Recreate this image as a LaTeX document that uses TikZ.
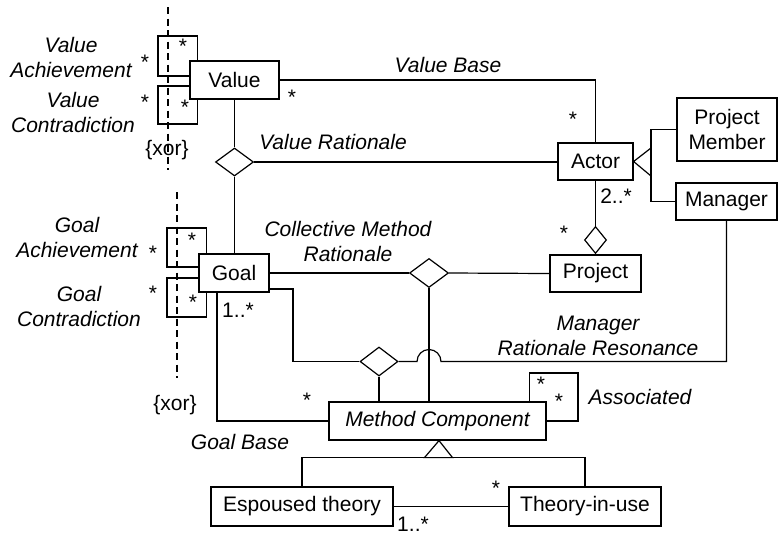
\documentclass[tikz,border=0pt]{standalone}
\usepackage{fontspec}
\setmainfont{Liberation Sans}
\usetikzlibrary{shapes.geometric,calc}
\begin{document}
\begin{tikzpicture}[x=1pt,y=-1pt,line width=1.2pt,
  every node/.style={font=\fontsize{21}{25}\selectfont},
  cls/.style={draw,rectangle,inner sep=0pt,align=center},
  dia/.style={draw,diamond,inner sep=0pt,fill=white},
  lbl/.style={align=center,inner sep=0pt,font=\fontsize{21}{25}\selectfont\itshape},
  mult/.style={inner sep=0pt},
  xorline/.style={dash pattern=on 7pt off 4.5pt}]
\useasboundingbox (0,0) rectangle (778,536);
% classes
\node[cls,minimum width=89,minimum height=38] (Value) at (234.5,80) {Value};
\node[cls,minimum width=75,minimum height=37] (Actor) at (595.5,161.5) {Actor};
\node[cls,minimum width=100,minimum height=63] (PM) at (727,129.5) {Project\\Member};
\node[cls,minimum width=101,minimum height=37] (Manager) at (726.5,201.5) {Manager};
\node[cls,minimum width=91,minimum height=37] (Project) at (595.5,273.5) {Project};
\node[cls,minimum width=70,minimum height=38] (Goal) at (234,273) {Goal};
\node[cls,minimum width=217,minimum height=38] (MC) at (437.5,421) {\itshape Method Component};
\node[cls,minimum width=182,minimum height=39] (Esp) at (302,506.5) {Espoused theory};
\node[cls,minimum width=152,minimum height=39] (TIU) at (585,506.5) {Theory-in-use};
% diamonds
\node[dia,minimum width=38,minimum height=28] (d1) at (234.5,162) {};
\node[dia,minimum width=22,minimum height=27] (d2) at (595.5,240) {};
\node[dia,minimum width=39,minimum height=29] (d3) at (429,273) {};
\node[dia,minimum width=38,minimum height=29] (d4) at (379,361.5) {};
% xor dashed lines
\coordinate (x1a) at (168,7);
\coordinate (x1b) at (168,170);
\coordinate (x2a) at (177,192);
\coordinate (x2b) at (177,378);
\draw[xorline] (x1a) -- (x1b);
\draw[xorline] (x2a) -- (x2b);
% value loops
\draw ([yshift=4pt]Value.west) -| (158,36) -| ([xshift=8pt]Value.north west);
\draw ([yshift=-6pt]Value.west) -| (158,124) -| ([xshift=8pt]Value.south west);
% goal loops
\draw ([yshift=6pt]Goal.west) -| (167,228) -| ([xshift=8pt]Goal.north west);
\draw ([yshift=-5pt]Goal.west) -| (167,317) -| ([xshift=8pt]Goal.south west);
% associations
\draw (Value.east) -| (Actor.north);
\draw (Value.south) -- (d1.north);
\draw (d1.south) -- (d1.south |- Goal.north);
\draw (d1.east) -- (d1.east -| Actor.west);
\draw (Actor.south) -- (d2.north);
\draw (d2.south) -- (Project.north);
\draw (Goal.east) -- (d3.west);
\draw (d3.east) -- (Project.west);
\draw (d3.south) -- (d3.south |- MC.north);
\draw ([yshift=-16pt]Goal.east) -| (293,361.5) -- (d4.west);
\draw (d4.south) -- (d4.south |- MC.north);
\coordinate (j1) at (417,361.5);
\draw (d4.east) -- (j1) arc[start angle=180,end angle=360,radius=12] -- (Manager.south |- j1) -- (Manager.south);
\draw ([xshift=-17pt]Goal.south) |- (MC.west);
\draw ([xshift=-17pt]MC.north east) |- (578,373) |- (MC.east);
\draw (Esp.east) -- (TIU.west);
% generalization Actor
\coordinate (g1) at (651,162);
\draw (Actor.east) -- (651,148) -- (651,176) -- cycle;
\draw (PM.west) -| (g1);
\draw (Manager.west) -| (g1);
% generalization MC
\coordinate (g2) at ($(MC.south)+(0,17)$);
\draw ([xshift=1.5pt]MC.south) -- ([xshift=-13pt]g2) -- ([xshift=15pt]g2) -- cycle;
\draw (Esp.north) |- (g2) -| (TIU.north);
% labels
\node[lbl] (lva) at (71,57.5) {Value\\Achievement};
\node[lbl] (lvc) at (73,112.5) {Value\\Contradiction};
\node[lbl] (lga) at (77,237) {Goal\\Achievement};
\node[lbl] (lgc) at (79,306.5) {Goal\\Contradiction};
\node[inner sep=0pt] (xor1) at (167,150) {\{xor\}};
\node[inner sep=0pt] (xor2) at (175,405) {\{xor\}};
\node[lbl] (lvb) at (448,65) {Value Base};
\node[lbl] (lvr) at (333,142) {Value Rationale};
\node[lbl] (lcmr) at (348,241.5) {Collective Method\\Rationale};
\node[lbl] (lmrr) at (598,335.5) {Manager\\Rationale Resonance};
\node[lbl] (las) at (640,397) {Associated};
\node[lbl] (lgb) at (240,442) {Goal Base};
% multiplicities
\node[mult] at (145,62) {*};
\node[mult] at (183,46) {*};
\node[mult] at (145,102) {*};
\node[mult] at (185,107) {*};
\node[mult] at (153,253) {*};
\node[mult] at (192,240) {*};
\node[mult] at (153,293) {*};
\node[mult] at (193,302) {*};
\node[mult] at (292,97) {*};
\node[mult] at (573,119) {*};
\node[mult] at (616,196) {2..*};
\node[mult] at (564,233) {*};
\node[mult] at (238,310) {1..*};
\node[mult] at (307,400) {*};
\node[mult] at (541,384) {*};
\node[mult] at (559,401) {*};
\node[mult] at (496,488) {*};
\node[mult] at (413,524) {1..*};
\end{tikzpicture}
\end{document}
